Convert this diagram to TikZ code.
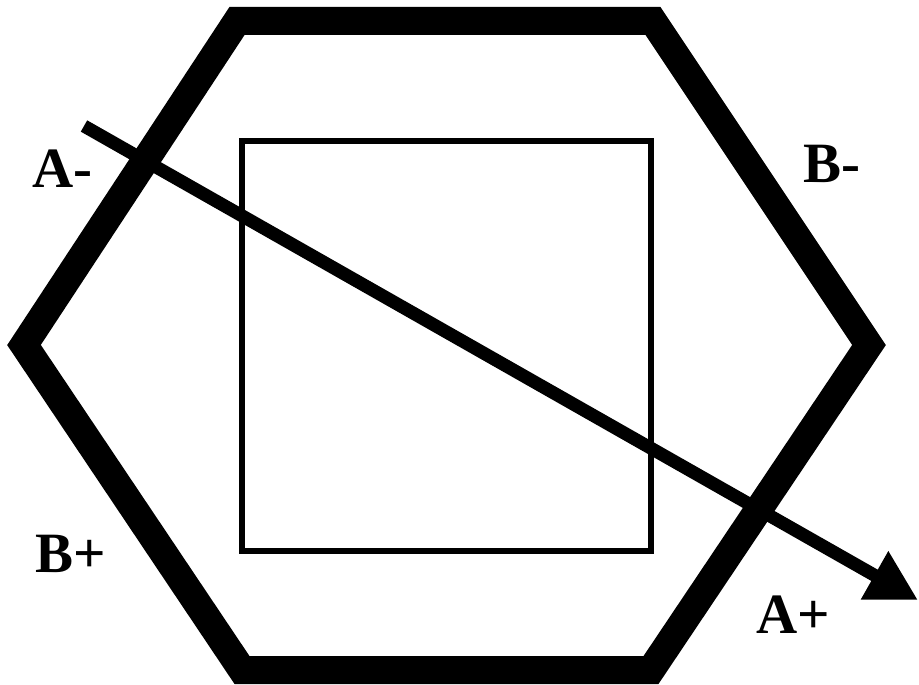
\documentclass[tikz,border=0pt]{standalone}
\usepackage{fontspec}
\setmainfont{Liberation Serif}[BoldFont={Liberation Serif Bold}]
\usetikzlibrary{arrows.meta}
\tikzset{
  hexline/.style={line width=28pt, line join=miter, draw=black},
  boxline/.style={line width=6pt, draw=black},
  arrowline/.style={line width=13pt, draw=black, -{Triangle[length=50pt,width=52pt]}},
  lbl/.style={anchor=base west, inner sep=0pt, font=\fontsize{57}{60}\selectfont\bfseries}
}
\begin{document}
\begin{tikzpicture}[x=1pt,y=-1pt]
\useasboundingbox (0,0) rectangle (919,685);
\draw[hexline] (237,21) -- (653,21) -- (869,345) -- (651,670) -- (242,670) -- (24,345) -- cycle;
\draw[boxline] (242,141) rectangle (651,551);
\coordinate (tail) at (84,126);
\coordinate (tip) at (918,600);
\draw[arrowline] (tail) -- (tip);
\node[lbl] (am) at (32,187) {A-};
\node[lbl] (bm) at (803,182) {B-};
\node[lbl] (bp) at (35,572) {B+};
\node[lbl] (ap) at (756,633) {A+};
\end{tikzpicture}
\end{document}
